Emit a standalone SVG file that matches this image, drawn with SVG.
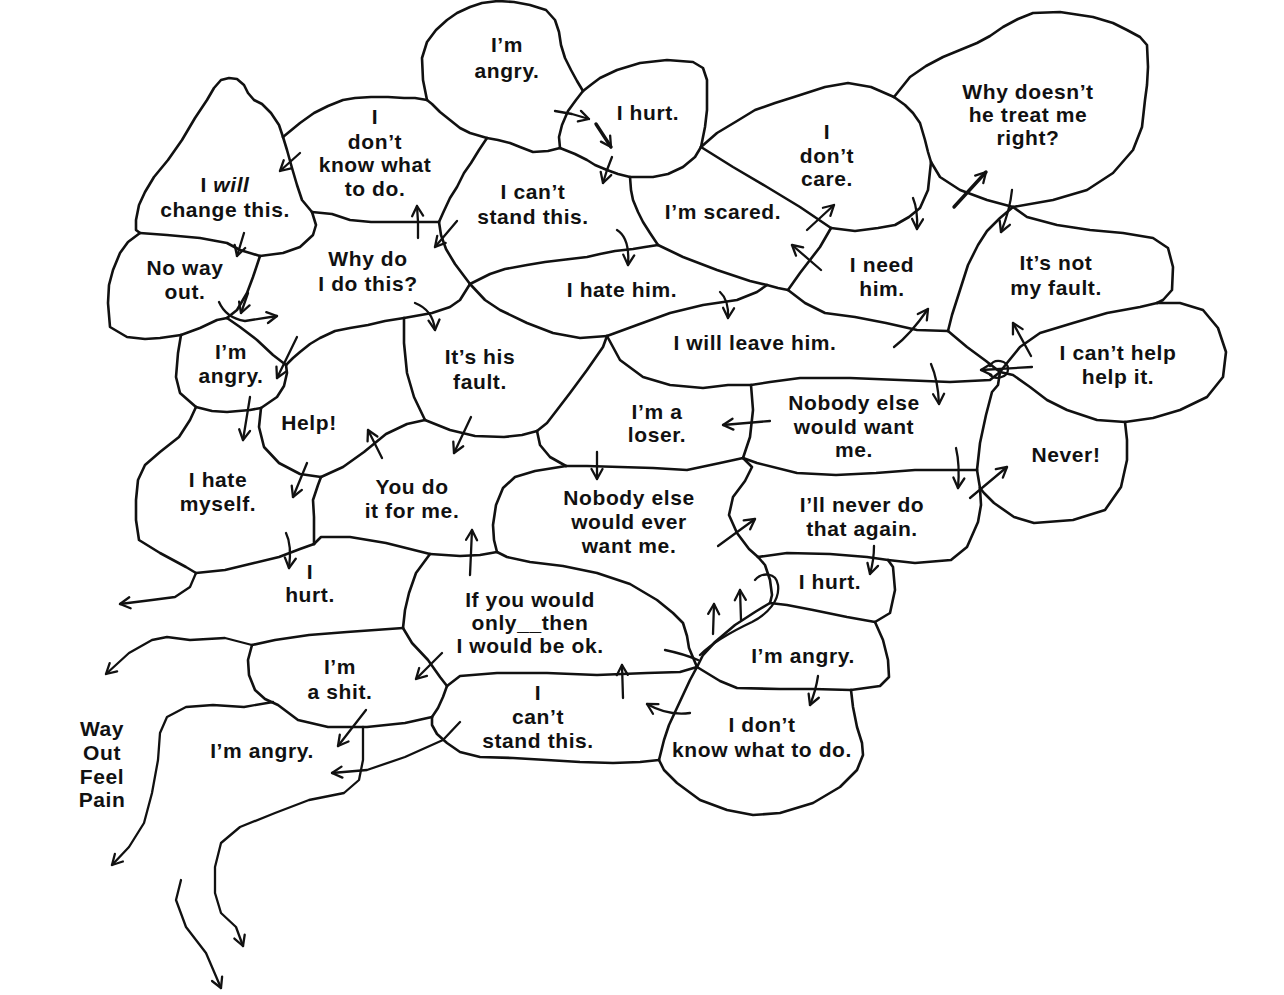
<svg xmlns="http://www.w3.org/2000/svg" width="1284" height="995" viewBox="0 0 1284 995">
<style>
.w{fill:none;stroke:#111;stroke-width:2.6;stroke-linecap:round;stroke-linejoin:round}
.t{font-family:"Liberation Sans",Arial,Helvetica,sans-serif;font-size:21px;letter-spacing:0.6px;font-weight:bold;fill:#111;text-anchor:middle}
.c{fill:none;stroke:#111;stroke-width:2.3;stroke-linecap:round;stroke-linejoin:round;marker-end:url(#ah)}
.n{fill:none;stroke:#111;stroke-width:2.3;stroke-linecap:round;stroke-linejoin:round}
.b{stroke-width:3.4}
</style>
<defs>
<marker id="ah" viewBox="0 0 14 14" refX="12" refY="7" markerWidth="14" markerHeight="14" markerUnits="userSpaceOnUse" orient="auto">
<path d="M2,1.5 L12,7 L2,12.5" fill="none" stroke="#111" stroke-width="2.3" stroke-linecap="round" stroke-linejoin="round"/>
</marker>
</defs>
<rect width="1284" height="995" fill="#fff"/>

<g id="s1">
<path class="w" d="M427,100 L423,80 L422,58 L427,42 L436,30 L447,20 L457,13 L470,7 L482,3 L498,1 L514,2 L530,5 L546,10 L555,20 L559,32 L561,45 L565,58 L571,70 L577,81 L583,91"/>
<path class="w" d="M583,91 L576,100 L568,111 L562,125 L559,137 L560,148"/>
<path class="w" d="M560,148 L548,151 L533,152 L520,147 L510,143 L498,140 L487,138"/>
<path class="w" d="M487,138 L470,133 L460,128 L450,120 L440,112 L432,104 L427,100"/>
<text class="t" x="507" y="52">I’m</text>
<text class="t" x="507" y="78">angry.</text>
</g>

<g id="s2">
<path class="w" d="M583,91 L592,84 L600,78 L617,70 L640,63 L667,60 L693,62 L703,68 L707,80 L707,93 L707,110 L705,127 L701,147"/>
<path class="w" d="M701,147 L695,157 L683,167 L668,174 L653,177 L630,177"/>
<path class="w" d="M630,177 L618,174 L607,170 L595,165 L587,160 L575,154 L560,148"/>
<text class="t" x="648" y="120">I hurt.</text>
</g>

<g id="s3">
<path class="w" d="M427,100 L415,98 L404,98 L388,97 L371,97 L355,98 L343,100 L328,106 L314,113 L300,123 L283,137"/>
<path class="w" d="M283,137 L287,150 L292,168 L297,185 L302,200 L312,212"/>
<path class="w" d="M312,212 L332,214 L350,220 L371,222 L393,222 L414,222 L439,222"/>
<path class="w" d="M439,222 L443,213 L450,198 L457,187 L464,173 L471,163 L479,150 L487,138"/>
<text class="t" x="375" y="124">I</text>
<text class="t" x="375" y="149">don’t</text>
<text class="t" x="375" y="172">know what</text>
<text class="t" x="375" y="196">to do.</text>
</g>

<g id="s4">
<path class="w" d="M283,137 L279,125 L271,113 L262,104 L254,100 L248,93 L244,85 L237,79 L229,78 L221,80 L214,88 L207,100 L195,118 L182,140 L168,160 L154,177 L145,192 L139,205 L136,220 L136,230 L140,233"/>
<path class="w" d="M312,212 L316,225 L313,235 L300,247 L283,253 L260,256"/>
<path class="w" d="M140,233 L167,235 L200,238 L227,243 L240,250 L260,256"/>
<text class="t" x="225" y="192">I <tspan font-style="italic">will</tspan></text>
<text class="t" x="225" y="217">change this.</text>
</g>

<g id="s5">
<path class="w" d="M140,233 L128,242 L120,253 L113,270 L109,285 L108,303 L110,327 L127,337 L145,339 L160,338 L181,335"/>
<path class="w" d="M260,256 L253,277 L247,293 L237,310 L227,318"/>
<path class="w" d="M181,335 L200,328 L217,320 L227,318"/>
<text class="t" x="185" y="275">No way</text>
<text class="t" x="185" y="299">out.</text>
</g>

<g id="s6">
<path class="w" d="M227,318 L240,327 L257,340 L273,355 L286,365"/>
<path class="w" d="M286,365 L293,358 L300,352 L310,344 L320,338 L335,331 L350,328 L368,325 L385,321 L404,318"/>
<path class="w" d="M439,222 L441,235 L446,249 L455,264 L470,284"/>
<path class="w" d="M470,284 L460,300 L450,307 L432,313 L404,318"/>
<text class="t" x="368" y="266">Why do</text>
<text class="t" x="368" y="291">I do this?</text>
</g>

<g id="s7">
<path class="w" d="M630,177 L631,190 L633,200 L638,212 L643,222 L650,233 L658,245"/>
<path class="w" d="M658,245 L645,247 L633,249 L615,251 L600,254 L587,257 L570,259 L545,262 L527,265 L505,269 L490,274 L470,284"/>
<text class="t" x="533" y="199">I can’t</text>
<text class="t" x="533" y="224">stand this.</text>
</g>

<g id="s8">
<path class="w" d="M658,245 L683,257 L717,270 L750,281 L767,285"/>
<path class="w" d="M767,285 L778,288 L788,290"/>
<path class="w" d="M788,290 L800,273 L820,247 L831,228"/>
<path class="w" d="M701,147 L717,157 L733,167 L767,187 L800,207 L831,228"/>
<text class="t" x="723" y="219">I’m scared.</text>
</g>

<g id="s9">
<path class="w" d="M701,147 L717,133 L737,121 L755,110 L775,103 L794,97 L825,87 L848,83 L871,87 L894,97"/>
<path class="w" d="M894,97 L905,105 L913,113 L920,123 L925,140 L928,152 L931,162"/>
<path class="w" d="M831,228 L855,231 L878,228 L895,225 L909,217 L920,208 L928,190 L931,162"/>
<text class="t" x="827" y="139">I</text>
<text class="t" x="827" y="163">don’t</text>
<text class="t" x="827" y="186">care.</text>
</g>

<g id="s10">
<path class="w" d="M894,97 L910,77 L926,66 L943,57 L960,50 L977,43 L990,36 L1003,27 L1018,19 L1033,13 L1060,12 L1093,17 L1113,23 L1127,30 L1140,37 L1147,45 L1148,67 L1147,85 L1145,100 L1142,127 L1133,150 L1113,173 L1087,190 L1053,200 L1013,207"/>
<path class="w" d="M931,162 L940,177 L960,190 L987,200 L1013,207"/>
<text class="t" x="1028" y="99">Why doesn’t</text>
<text class="t" x="1028" y="122">he treat me</text>
<text class="t" x="1028" y="145">right?</text>
</g>

<g id="s11">
<path class="w" d="M1013,207 L1000,218 L987,231 L978,245 L968,265 L960,290 L952,315 L948,331"/>
<path class="w" d="M788,290 L805,303 L825,313 L855,317 L886,323 L917,330 L948,331"/>
<text class="t" x="882" y="272">I need</text>
<text class="t" x="882" y="296">him.</text>
</g>

<g id="s12">
<path class="w" d="M1013,207 L1027,217 L1057,225 L1090,230 L1123,233 L1153,238 L1168,248 L1173,267 L1172,290 L1163,300 L1157,303"/>
<path class="w" d="M948,331 L967,347 L986,361 L1000,372"/>
<path class="w" d="M1000,372 L1007,363 L1020,347 L1040,333 L1073,323 L1107,313 L1140,307 L1157,303"/>
<text class="t" x="1056" y="270">It’s not</text>
<text class="t" x="1056" y="295">my fault.</text>
</g>

<g id="s13">
<path class="w" d="M607,336 L637,325 L670,313 L703,305 L737,300 L757,292 L767,285"/>
<path class="w" d="M470,284 L485,300 L500,310 L527,323 L553,333 L580,338 L607,336"/>
<text class="t" x="622" y="297">I hate him.</text>
</g>

<g id="s14">
<path class="w" d="M607,336 L620,360 L643,377 L670,385 L703,388 L728,385 L751,385"/>
<path class="w" d="M1000,372 L990,380 L950,382 L900,380 L850,378 L800,378 L770,382 L751,385"/>
<text class="t" x="755" y="350">I will leave him.</text>
</g>

<g id="s15">
<path class="w" d="M1157,303 L1180,303 L1203,310 L1218,328 L1226,352 L1223,377 L1207,397 L1180,410 L1153,418 L1125,422"/>
<path class="w" d="M1125,422 L1097,420 L1067,410 L1047,400 L1030,387 L1013,375 L1000,372"/>
<text class="t" x="1118" y="360">I can’t help</text>
<text class="t" x="1118" y="384">help it.</text>
</g>

<g id="s16">
<path class="w" d="M181,335 L178,353 L176,377 L180,393 L196,407"/>
<path class="w" d="M196,407 L212,411 L227,412 L250,410 L261,408"/>
<path class="w" d="M286,365 L287,373 L284,386 L277,397 L261,408"/>
<text class="t" x="231" y="359">I’m</text>
<text class="t" x="231" y="383">angry.</text>
</g>

<g id="s17">
<path class="w" d="M404,318 L404,343 L407,373 L414,397 L425,420"/>
<path class="w" d="M425,420 L450,430 L475,436 L504,437 L522,435 L537,431"/>
<path class="w" d="M607,336 L603,347 L587,370 L570,393 L557,410 L547,423 L537,431"/>
<text class="t" x="480" y="364">It’s his</text>
<text class="t" x="480" y="389">fault.</text>
</g>

<g id="s18">
<path class="w" d="M261,408 L259,427 L264,447 L279,463 L300,474 L321,477"/>
<path class="w" d="M321,477 L343,467 L364,452 L386,434 L407,424 L425,420"/>
<text class="t" x="309" y="430">Help!</text>
</g>

<g id="s19">
<path class="w" d="M537,431 L540,445 L550,457 L566,466"/>
<path class="w" d="M566,466 L587,466 L620,467 L653,468 L687,470 L720,463 L743,458"/>
<path class="w" d="M751,385 L753,410 L750,437 L743,458"/>
<text class="t" x="657" y="419">I’m a</text>
<text class="t" x="657" y="442">loser.</text>
</g>

<g id="s20">
<path class="w" d="M1000,372 L998,385 L992,392 L986,415 L980,443 L977,470"/>
<path class="w" d="M743,458 L757,463 L797,473 L836,475 L876,473 L915,470 L955,470 L977,470"/>
<text class="t" x="854" y="410">Nobody else</text>
<text class="t" x="854" y="434">would want</text>
<text class="t" x="854" y="457">me.</text>
</g>

<g id="s21">
<path class="w" d="M1125,422 L1127,440 L1127,460 L1121,487 L1105,510 L1073,520 L1034,523 L1014,517 L994,503 L984,493 L980,488"/>
<path class="w" d="M977,470 L980,488"/>
<text class="t" x="1066" y="462">Never!</text>
</g>

<g id="s22">
<path class="w" d="M196,407 L190,420 L179,437 L160,452 L145,465 L138,480 L136,500 L136,520 L139,540 L160,553 L186,567 L196,573"/>
<path class="w" d="M196,573 L225,570 L254,563 L279,557 L300,549 L314,544"/>
<path class="w" d="M321,477 L318,485 L313,500 L314,517 L314,532 L314,544"/>
<text class="t" x="218" y="487">I hate</text>
<text class="t" x="218" y="511">myself.</text>
</g>

<g id="s23">
<path class="w" d="M314,544 L321,537 L350,537 L386,543 L414,550 L430,554"/>
<path class="w" d="M430,554 L460,556 L480,555 L497,552"/>
<path class="w" d="M497,552 L494,540 L493,525 L496,505 L503,488 L515,477 L535,471 L566,466"/>
<text class="t" x="412" y="494">You do</text>
<text class="t" x="412" y="518">it for me.</text>
</g>

<g id="s24">
<path class="w" d="M743,458 L752,467 L745,481 L733,497 L729,515 L737,533 L749,549 L758,557"/>
<path class="w" d="M758,557 L765,565 L770,580 L772,595 L770,603"/>
<path class="w" d="M770,603 L755,612 L735,625 L715,642 L703,655 L697,667"/>
<path class="w" d="M497,552 L507,557 L530,562 L563,566 L597,573 L630,584 L657,600 L673,613 L683,623 L687,636 L689,648 L697,667"/>
<text class="t" x="629" y="505">Nobody else</text>
<text class="t" x="629" y="529">would ever</text>
<text class="t" x="629" y="553">want me.</text>
</g>

<g id="s25">
<path class="w" d="M980,488 L981,505 L978,522 L967,547 L951,560 L915,563 L888,560"/>
<path class="w" d="M758,557 L787,553 L830,554 L867,557 L888,560"/>
<text class="t" x="862" y="512">I’ll never do</text>
<text class="t" x="862" y="536">that again.</text>
</g>

<g id="s26">
<text class="t" x="310" y="579">I</text>
<text class="t" x="310" y="602">hurt.</text>
</g>

<g id="s27">
<path class="w" d="M888,560 L893,567 L895,590 L890,613 L875,622"/>
<path class="w" d="M770,603 L787,605 L813,610 L847,617 L875,622"/>
<text class="t" x="830" y="589">I hurt.</text>
</g>

<g id="s28">
<path class="w" d="M697,667 L680,672 L647,673 L597,675 L547,673 L497,673 L460,676 L447,686"/>
<path class="w" d="M430,554 L416,573 L409,593 L405,610 L403,628"/>
<path class="w" d="M403,628 L412,643 L428,660 L440,677 L447,686"/>
<text class="t" x="530" y="607">If you would</text>
<text class="t" x="530" y="630">only__then</text>
<text class="t" x="530" y="653">I would be ok.</text>
</g>

<g id="s29">
<path class="w" d="M875,622 L883,640 L888,660 L889,677 L880,686 L851,690"/>
<path class="w" d="M697,667 L720,681 L737,688 L780,689 L813,689 L851,690"/>
<text class="t" x="803" y="663">I’m angry.</text>
</g>

<g id="s30">
<path class="w" d="M403,628 L375,630 L347,632 L309,635 L275,640 L252,645"/>
<path class="w" d="M252,645 L248,660 L249,675 L255,690 L265,699 L278,705 L298,720 L328,727 L367,727 L405,723 L432,717"/>
<path class="w" d="M447,686 L443,697 L438,708 L432,717"/>
<text class="t" x="340" y="674">I’m</text>
<text class="t" x="340" y="699">a shit.</text>
</g>

<g id="s31">
<path class="w" d="M432,717 L432,725 L437,734 L447,743 L460,752 L480,757 L513,758 L547,760 L580,762 L613,763 L640,762 L659,760"/>
<path class="w" d="M697,667 L690,680 L683,695 L676,710 L669,725 L664,740 L659,760"/>
<text class="t" x="538" y="700">I</text>
<text class="t" x="538" y="724">can’t</text>
<text class="t" x="538" y="748">stand this.</text>
</g>

<g id="s32">
<path class="w" d="M851,690 L853,707 L857,727 L862,743 L863,755 L857,770 L840,787 L813,803 L780,813 L753,815 L727,810 L700,800 L677,783 L664,770 L659,760"/>
<text class="t" x="762" y="732">I don’t</text>
<text class="t" x="762" y="757">know what to do.</text>
</g>

<g id="s33">
<text class="t" x="262" y="758">I’m angry.</text>
</g>

<g id="s34">
<text class="t" x="102" y="736">Way</text>
<text class="t" x="102" y="760">Out</text>
<text class="t" x="102" y="784">Feel</text>
<text class="t" x="102" y="807">Pain</text>
</g>

<g id="connectors">
<path class="c" d="M555,111 L572,114 L589,119"/>
<path class="c b" d="M596,124 L611,147"/>
<path class="c" d="M612,157 L607,170 L603,183"/>
<path class="c" d="M300,153 L280,171"/>
<path class="c" d="M244,233 L237,256"/>
<path class="c" d="M418,238 L418,222 L417,206"/>
<path class="c" d="M457,221 L435,247"/>
<path class="c" d="M617,230 Q630,238 628,265"/>
<path class="c" d="M415,303 Q433,310 435,330"/>
<path class="c" d="M720,292 Q729,300 728,318"/>
<path class="c" d="M807,230 L834,205"/>
<path class="c" d="M821,270 L792,245"/>
<path class="c" d="M913,198 Q918,210 917,229"/>
<path class="c b" d="M954,207 L986,172"/>
<path class="c" d="M1012,190 Q1010,210 1001,232"/>
<path class="c" d="M894,347 Q910,335 928,309"/>
<path class="c" d="M1031,356 L1013,323"/>
<path class="c" d="M1032,367 L981,370"/>
<path class="n" d="M990,366 C994,358 1008,360 1008,369 C1008,378 995,380 990,375"/>
<path class="c" d="M931,364 Q938,380 939,404"/>
<path class="c" d="M770,421 L723,425"/>
<path class="c" d="M597,452 L597,479"/>
<path class="c" d="M956,448 Q960,465 958,488"/>
<path class="c" d="M970,498 L1007,467"/>
<path class="c" d="M718,546 L755,519"/>
<path class="c" d="M874,546 Q874,560 870,574"/>
<path class="n" d="M665,650 Q684,654 698,660"/>
<path class="n" d="M700,655 C715,640 735,630 752,622 C768,614 780,600 778,585 C776,572 762,572 755,580"/>
<path class="c" d="M713,634 L714,604"/>
<path class="c" d="M741,620 L740,590"/>
<path class="c" d="M818,676 Q816,690 810,705"/>
<path class="c" d="M690,713 Q668,716 647,704"/>
<path class="c" d="M623,698 L622,665"/>
<path class="c" d="M470,575 L472,530"/>
<path class="c" d="M442,653 L416,679"/>
<path class="c" d="M366,710 L338,746"/>
<path class="c" d="M460,722 L443,740 L405,757 L367,770 L332,773"/>
<path class="c" d="M382,458 L368,430"/>
<path class="c" d="M471,417 L454,453"/>
<path class="c" d="M307,463 L293,497"/>
<path class="c" d="M250,397 L243,440"/>
<path class="c" d="M286,533 Q292,545 289,568"/>
<path class="c" d="M219,302 Q226,318 245,321 L277,316"/>
<path class="c" d="M248,293 L241,313"/>
<path class="c" d="M297,337 L277,378"/>
<path class="c" d="M196,573 L190,587 L175,597 L152,600 L120,604"/>
<path class="c" d="M252,645 L225,638 L190,640 L167,637 L152,640 L129,653 L106,674"/>
<path class="c" d="M273,702 L244,707 L213,705 L186,707 L167,717 L160,733 L158,760 L152,793 L144,823 L129,847 L112,865"/>
<path class="c" d="M363,727 L363,760 L359,780 L344,793 L309,800 L275,813 L240,827 L221,843 L215,867 L215,893 L221,913 L236,927 L243,946"/>
<path class="c" d="M181,880 L176,900 L186,927 L206,953 L221,988"/>
</g>
</svg>
